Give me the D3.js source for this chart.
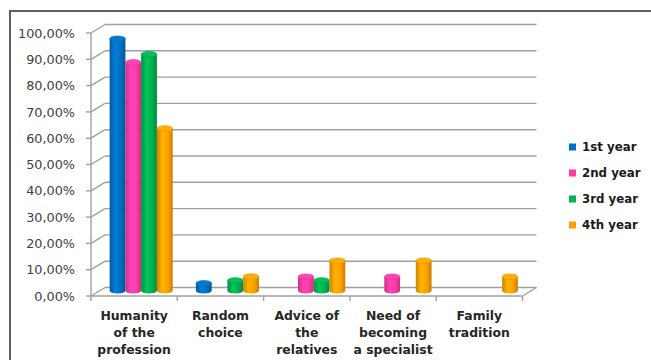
<!DOCTYPE html>
<html>
<head>
<meta charset="utf-8">
<script src="https://cdn.jsdelivr.net/npm/d3@7"></script>
<style>
  body, html { margin: 0; padding: 0; background: #fff; }
  svg { display: block; }
</style>
</head>
<body>
<div id="chart"></div>
<script>
// data
var categories = [
  ["Humanity", "of the", "profession"],
  ["Random", "choice"],
  ["Advice of", "the", "relatives"],
  ["Need of", "becoming", "a specialist"],
  ["Family", "tradition"]
];
var seriesNames = ["1st year", "2nd year", "3rd year", "4th year"];
var seriesColors = ["#0070c0", "#ff3ca5", "#00b050", "#ffa000"];
var year1 = [0.962, 0.032, 0, 0, 0];
var year2 = [0.872, 0, 0.057, 0.057, 0];
var year3 = [0.903, 0.043, 0.043, 0, 0];
var year4 = [0.621, 0.058, 0.118, 0.118, 0.057];
var yTicks = [0, 0.1, 0.2, 0.3, 0.4, 0.5, 0.6, 0.7, 0.8, 0.9, 1.0];

var allSeries = [year1, year2, year3, year4];

var W = 651, H = 360;
var dx = 14, dy = -8.5;   // 3d depth offset

var svg = d3.select("#chart").append("svg")
    .attr("width", W).attr("height", H);

var defs = svg.append("defs");
seriesColors.forEach(function(c, i) {
  var col = d3.color(c);
  var g = defs.append("linearGradient").attr("id", "cyl" + i)
      .attr("x1", "0%").attr("x2", "100%");
  g.append("stop").attr("offset", "0%").attr("stop-color", col.darker(0.6));
  g.append("stop").attr("offset", "35%").attr("stop-color", col.brighter(0.35));
  g.append("stop").attr("offset", "70%").attr("stop-color", col);
  g.append("stop").attr("offset", "100%").attr("stop-color", col.darker(0.7));
});

// frame
svg.append("path")
    .attr("d", "M10,360 L10,11 L651,11")
    .attr("fill", "none").attr("stroke", "#606060").attr("stroke-width", 2);

var keys = categories.map(function(d, i) { return "c" + i; });
var x = d3.scaleBand().domain(keys).range([91, 522.5]);
var y = d3.scaleLinear().domain([0, 1]).range([296, 33]);
var groupW = 63;
var xs = d3.scaleBand().domain(seriesNames).range([0, groupW]);

var grid = svg.append("g").attr("stroke", "#a0a0a0").attr("stroke-width", 1.4).attr("fill", "none");

// back wall gridlines and left wall diagonals
yTicks.forEach(function(t) {
  var yy = y(t);
  grid.append("line").attr("x1", 91 + dx).attr("x2", 522.5 + dx)
      .attr("y1", yy + dy).attr("y2", yy + dy);
  grid.append("line").attr("x1", 91).attr("x2", 91 + dx)
      .attr("y1", yy).attr("y2", yy + dy);
  grid.append("line").attr("x1", 86).attr("x2", 91)
      .attr("y1", yy).attr("y2", yy);
});
// front axis
grid.append("line").attr("x1", 91).attr("x2", 91).attr("y1", y(1)).attr("y2", y(0));
// floor front edge and right diagonal
grid.append("line").attr("x1", 91).attr("x2", 522.5).attr("y1", y(0)).attr("y2", y(0));
grid.append("line").attr("x1", 522.5).attr("x2", 522.5 + dx).attr("y1", y(0)).attr("y2", y(0) + dy);
// category ticks
keys.forEach(function(k) {
  grid.append("line").attr("x1", x(k)).attr("x2", x(k)).attr("y1", y(0)).attr("y2", y(0) + 5);
});
grid.append("line").attr("x1", 522.5).attr("x2", 522.5).attr("y1", y(0)).attr("y2", y(0) + 5);

// y labels
svg.append("g").selectAll("text").data(yTicks).join("text")
    .attr("x", 75).attr("y", function(d) { return y(d); })
    .attr("dy", "0.36em")
    .attr("text-anchor", "end")
    .attr("font-family", "DejaVu Sans, Verdana, sans-serif")
    .attr("font-size", 12.8)
    .attr("fill", "#404040")
    .text(function(d) { return d3.format(".2f")(d * 100).replace(".", ",") + "%"; });

// bars as cylinders
var bars = svg.append("g");
var ry = 2.8;
allSeries.forEach(function(vals, si) {
  vals.forEach(function(v, ci) {
    if (!v) return;
    var k = keys[ci];
    var bx = x(k) + (x.bandwidth() - groupW) / 2 + dx / 2 + xs(seriesNames[si]);
    var bw = xs.bandwidth();
    var rx = bw / 2;
    var base = y(0) + dy / 2 - 1;
    var top = y(v) + dy / 2;
    var cx = bx + rx;
    var col = d3.color(seriesColors[si]);
    bars.append("path")
        .attr("d", "M" + bx + "," + top +
          " L" + bx + "," + base +
          " A" + rx + "," + ry + " 0 0 0 " + (bx + bw) + "," + base +
          " L" + (bx + bw) + "," + top + " Z")
        .attr("fill", "url(#cyl" + si + ")");
    bars.append("ellipse")
        .attr("cx", cx).attr("cy", top).attr("rx", rx).attr("ry", ry)
        .attr("fill", col.brighter(0.25))
        .attr("stroke", col.darker(0.3)).attr("stroke-width", 0.6);
  });
});

// category labels
var catG = svg.append("g");
categories.forEach(function(lines, i) {
  var t = catG.append("text")
      .attr("x", x(keys[i]) + x.bandwidth() / 2)
      .attr("y", 320)
      .attr("text-anchor", "middle")
      .attr("font-family", "DejaVu Sans, Verdana, sans-serif")
      .attr("font-weight", "bold")
      .attr("font-size", 12.4)
      .attr("fill", "#262626");
  lines.forEach(function(l, j) {
    t.append("tspan").attr("x", x(keys[i]) + x.bandwidth() / 2)
        .attr("dy", j === 0 ? 0 : 17).text(l);
  });
});

// legend
var leg = svg.append("g").selectAll("g").data(seriesNames).join("g")
    .attr("transform", function(d, i) { return "translate(569," + (147 + i * 26) + ")"; });
leg.append("rect").attr("x", 0).attr("y", -3.5).attr("width", 7).attr("height", 7)
    .attr("fill", function(d, i) { return seriesColors[i]; });
leg.append("text").attr("x", 13).attr("dy", "0.36em")
    .attr("font-family", "DejaVu Sans, Verdana, sans-serif")
    .attr("font-weight", "bold").attr("font-size", 11.8).attr("fill", "#1a1a1a")
    .text(function(d) { return d; });
</script>
</body>
</html>
